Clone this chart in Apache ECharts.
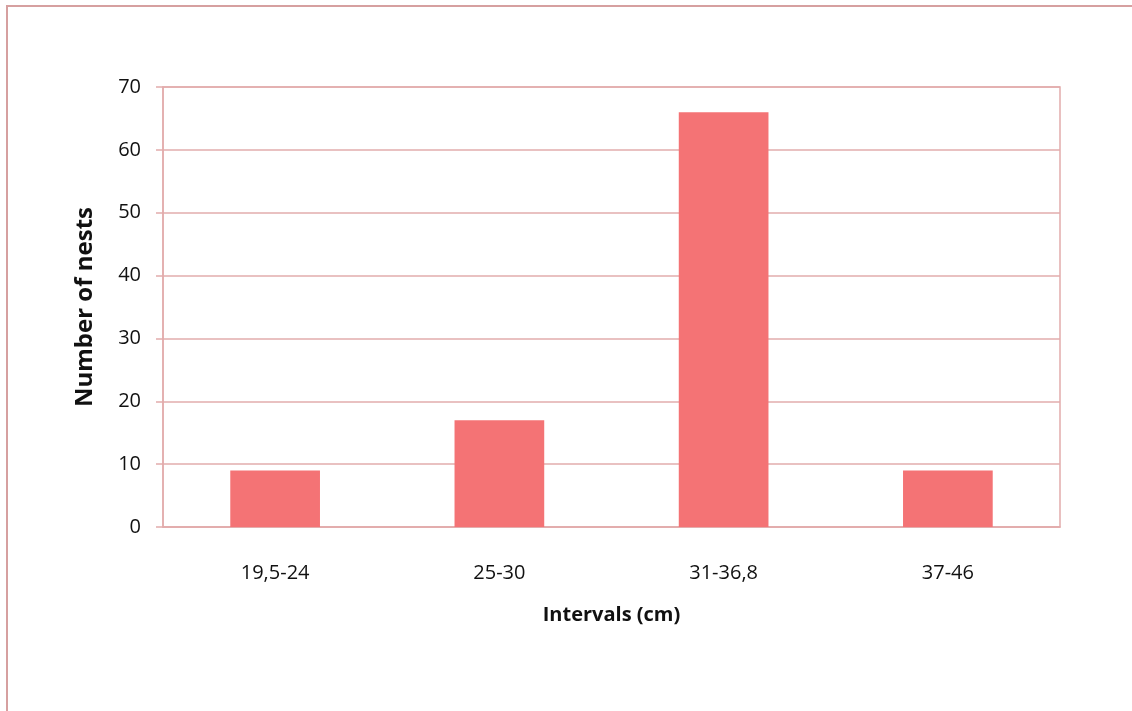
<!DOCTYPE html>
<html><head><meta charset="utf-8">
<script src="https://cdn.jsdelivr.net/npm/echarts@6/dist/echarts.min.js"></script>
<style>html,body{margin:0;padding:0;background:#fff}#c{width:1132px;height:711px}</style>
</head><body><div id="c"></div>
<script>
const categories = ['19,5-24', '25-30', '31-36,8', '37-46'];
const nests = [9, 17, 66, 9];
const yTicks = {min: 0, max: 70, interval: 10};

const chart = echarts.init(document.getElementById('c'));
const font = '"Open Sans", "Liberation Sans", sans-serif';
chart.setOption({
  animation: false,
  graphic: [{
    type: 'rect', shape: {x: 7, y: 6, width: 1300, height: 900},
    style: {fill: 'none', stroke: '#d6a0a0', lineWidth: 2}, silent: true
  }],
  grid: {left: 163, top: 87, width: 897, height: 440, show: true, borderColor: '#e2acac', borderWidth: 1.5},
  xAxis: {
    type: 'category', data: categories,
    name: 'Intervals (cm)', nameLocation: 'middle', nameGap: 78,
    nameTextStyle: {fontFamily: font, fontWeight: 'bold', fontSize: 20, color: '#111'},
    axisLine: {lineStyle: {color: '#e2acac', width: 1.5}},
    axisTick: {show: false},
    axisLabel: {fontFamily: font, fontSize: 20, color: '#111', margin: 36}
  },
  yAxis: {
    type: 'value', min: yTicks.min, max: yTicks.max, interval: yTicks.interval,
    name: 'Number of nests', nameLocation: 'middle', nameGap: 66, nameRotate: 90,
    nameTextStyle: {fontFamily: font, fontWeight: 'bold', fontSize: 24, color: '#111'},
    axisLine: {show: true, lineStyle: {color: '#e2acac', width: 1.5}},
    axisTick: {show: true, length: 7, inside: false, lineStyle: {color: '#e2acac', width: 1.5}},
    splitLine: {lineStyle: {color: '#e2acac', width: 1.5}},
    axisLabel: {fontFamily: font, fontSize: 20, color: '#111', margin: 22}
  },
  series: [{
    type: 'bar', data: nests, barWidth: '40%',
    itemStyle: {color: '#f47375'}
  }]
});
</script></body></html>
